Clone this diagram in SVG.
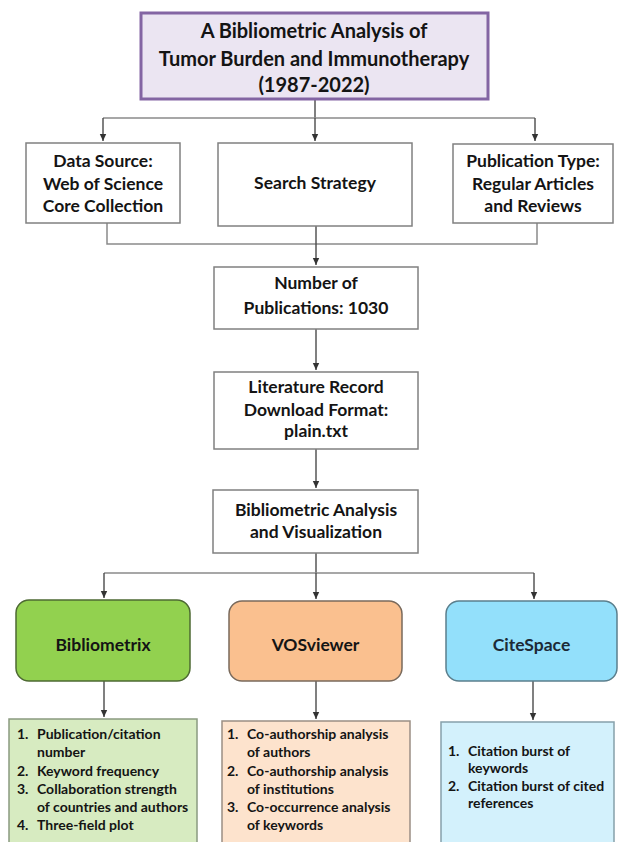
<svg xmlns="http://www.w3.org/2000/svg" width="622" height="842" viewBox="0 0 622 842">
<defs>
<marker id="ah" markerWidth="8" markerHeight="8" refX="7" refY="4" orient="auto" markerUnits="userSpaceOnUse">
<path d="M0,0.8 L7,4 L0,7.2 Z" fill="#333"/>
</marker>
<style>
text{font-family:Lato,"Open Sans","Liberation Sans",sans-serif;font-weight:bold;fill:#141414}
.t{font-size:20px;text-anchor:middle}
.b{font-size:17.5px;text-anchor:middle}
.l{font-size:14px}
.box{fill:#fff;stroke:#808080;stroke-width:1.5}
.c{fill:none;stroke:#4a4a4a;stroke-width:1.4}
.g{fill:none;stroke:#8a8a8a;stroke-width:1.5}
</style>
</defs>
<rect width="622" height="842" fill="#fff"/>

<g id="connectors">
<path class="c" d="M315,99 V118"/>
<path class="g" d="M103,118 H535"/>
<path class="c" d="M103,118 V141" marker-end="url(#ah)"/>
<path class="c" d="M315,118 V141" marker-end="url(#ah)"/>
<path class="c" d="M535,118 V141" marker-end="url(#ah)"/>
<path class="g" d="M107,223 V244 H537 V223"/>
<path class="c" d="M316,226 V265" marker-end="url(#ah)"/>
<path class="c" d="M316,329 V370" marker-end="url(#ah)"/>
<path class="c" d="M316,449 V488" marker-end="url(#ah)"/>
<path class="c" d="M316,553 V573"/>
<path class="g" d="M104,573 H534"/>
<path class="c" d="M104,573 V598" marker-end="url(#ah)"/>
<path class="c" d="M316,573 V599" marker-end="url(#ah)"/>
<path class="c" d="M534,573 V599" marker-end="url(#ah)"/>
<path class="c" d="M104,681 V717" marker-end="url(#ah)"/>
<path class="c" d="M316,681 V719" marker-end="url(#ah)"/>
<path class="c" d="M533,681 V720" marker-end="url(#ah)"/>
</g>

<g id="title">
<rect x="141" y="13" width="347" height="86" fill="#ebe5f2" stroke="#8365a3" stroke-width="3"/>
<text class="t" x="314" y="38">A Bibliometric Analysis of</text>
<text class="t" x="314" y="65.5">Tumor Burden and Immunotherapy</text>
<text class="t" x="314" y="92">(1987-2022)</text>
</g>

<g id="data-source">
<rect class="box" x="26" y="143" width="154" height="80"/>
<text class="b" x="103" y="167">Data Source:</text>
<text class="b" x="103" y="189.5">Web of Science</text>
<text class="b" x="103" y="212">Core Collection</text>
</g>

<g id="search-strategy">
<rect class="box" x="218" y="143" width="194" height="83"/>
<text class="b" x="315" y="189">Search Strategy</text>
</g>

<g id="publication-type">
<rect class="box" x="453" y="144" width="160" height="79"/>
<text class="b" x="533" y="167">Publication Type:</text>
<text class="b" x="533" y="189.5">Regular Articles</text>
<text class="b" x="533" y="212">and Reviews</text>
</g>

<g id="number">
<rect class="box" x="214" y="267" width="204" height="62"/>
<text class="b" x="316" y="289">Number of</text>
<text class="b" x="316" y="313.5">Publications: 1030</text>
</g>

<g id="literature">
<rect class="box" x="214" y="372" width="204" height="77"/>
<text class="b" x="316" y="393">Literature Record</text>
<text class="b" x="316" y="415.5">Download Format:</text>
<text class="b" x="316" y="437">plain.txt</text>
</g>

<g id="analysis">
<rect class="box" x="213" y="490" width="205" height="63"/>
<text class="b" x="316" y="516">Bibliometric Analysis</text>
<text class="b" x="316" y="538">and Visualization</text>
</g>

<g id="bibliometrix">
<rect x="16" y="600" width="174" height="81" rx="13" fill="#92d14f" stroke="#4e6a33" stroke-width="1.5"/>
<text class="b" x="103" y="651">Bibliometrix</text>
</g>

<g id="vosviewer">
<rect x="229" y="601" width="173" height="80" rx="13" fill="#fac08f" stroke="#7a6a5c" stroke-width="1.5"/>
<text class="b" x="315.5" y="651">VOSviewer</text>
</g>

<g id="citespace">
<rect x="446" y="601" width="171" height="80" rx="13" fill="#93e0fb" stroke="#5b7f8d" stroke-width="1.5"/>
<text class="b" x="531.5" y="651" style="fill:#1c2a36">CiteSpace</text>
</g>

<g id="bibliometrix-list">
<rect x="9" y="719" width="188" height="130" fill="#d7ebc1" stroke="#8a9a80" stroke-width="1.5"/>
<text class="l" x="17" y="739">1.</text><text class="l" x="37" y="739">Publication/citation</text>
<text class="l" x="37" y="757">number</text>
<text class="l" x="17" y="776">2.</text><text class="l" x="37" y="776">Keyword frequency</text>
<text class="l" x="17" y="794">3.</text><text class="l" x="37" y="794">Collaboration strength</text>
<text class="l" x="37" y="812">of countries and authors</text>
<text class="l" x="17" y="830">4.</text><text class="l" x="37" y="830">Three-field plot</text>
</g>

<g id="vosviewer-list">
<rect x="222" y="721" width="188" height="130" fill="#fde3cd" stroke="#9a8e84" stroke-width="1.5"/>
<text class="l" x="227" y="739">1.</text><text class="l" x="247" y="739">Co-authorship analysis</text>
<text class="l" x="247" y="757">of authors</text>
<text class="l" x="227" y="776">2.</text><text class="l" x="247" y="776">Co-authorship analysis</text>
<text class="l" x="247" y="794">of institutions</text>
<text class="l" x="227" y="812">3.</text><text class="l" x="247" y="812">Co-occurrence analysis</text>
<text class="l" x="247" y="830">of keywords</text>
</g>

<g id="citespace-list">
<rect x="441" y="722" width="173" height="130" fill="#d3f1fc" stroke="#86a0aa" stroke-width="1.5"/>
<text class="l" x="448" y="756">1.</text><text class="l" x="468" y="756">Citation burst of</text>
<text class="l" x="468" y="773">keywords</text>
<text class="l" x="448" y="791">2.</text><text class="l" x="468" y="791">Citation burst of cited</text>
<text class="l" x="468" y="808">references</text>
</g>
</svg>
